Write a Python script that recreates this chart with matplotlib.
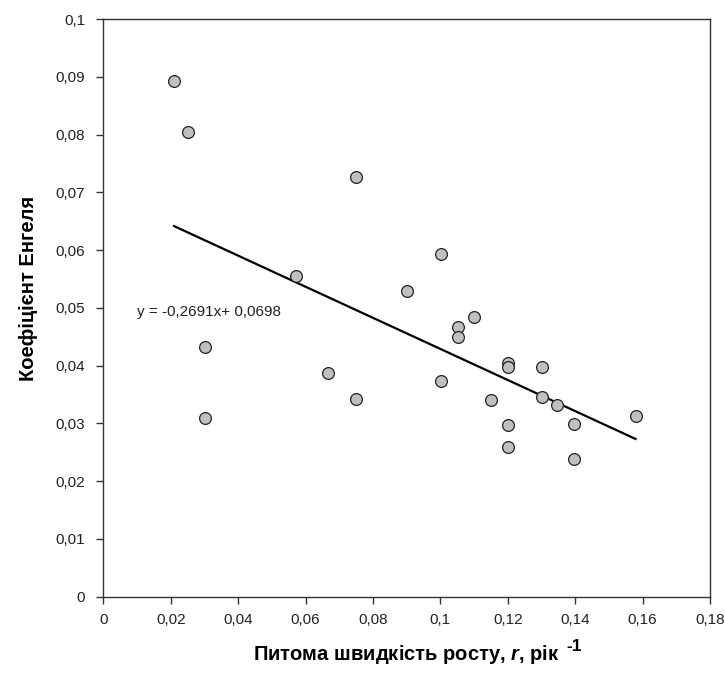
"""
scatter of Engel coefficient vs specific growth rate with linear trend
"""

import numpy as np
import matplotlib
matplotlib.use("Agg")
import matplotlib.pyplot as plt

# data
# --------------------------
growth_rate = [0.021, 0.0252, 0.0749, 0.0571, 0.0302, 0.0302, 0.0667, 0.0749,
               0.1001, 0.0902, 0.1101, 0.1051, 0.1051, 0.1001, 0.1201, 0.1201,
               0.1301, 0.1151, 0.1301, 0.1346, 0.1201, 0.1201, 0.1397, 0.1397,
               0.1579]
engel_coef = [0.0893, 0.0805, 0.0726, 0.0555, 0.0433, 0.0309, 0.0387, 0.0342,
              0.0593, 0.0530, 0.0485, 0.0466, 0.0450, 0.0374, 0.0405, 0.0398,
              0.0398, 0.0340, 0.0345, 0.0332, 0.0297, 0.0259, 0.0299, 0.0239,
              0.0313]

# trend line coefficients as printed on the chart
slope = -0.2691
intercept = 0.0698

x_ticks = [0, 0.02, 0.04, 0.06, 0.08, 0.1, 0.12, 0.14, 0.16, 0.18]
x_tick_labels = ["0", "0,02", "0,04", "0,06", "0,08", "0,1", "0,12", "0,14", "0,16", "0,18"]
y_ticks = [0, 0.01, 0.02, 0.03, 0.04, 0.05, 0.06, 0.07, 0.08, 0.09, 0.1]
y_tick_labels = ["0", "0,01", "0,02", "0,03", "0,04", "0,05", "0,06", "0,07", "0,08", "0,09", "0,1"]

plt.rcParams["font.family"] = ["Liberation Sans", "DejaVu Sans"]
plt.rcParams["mathtext.fontset"] = "custom"
plt.rcParams["mathtext.rm"] = "Liberation Sans:bold"
plt.rcParams["mathtext.it"] = "Liberation Sans:italic:bold"
plt.rcParams["mathtext.bf"] = "Liberation Sans:bold"

fig = plt.figure(figsize=(7.25, 6.86), dpi=100)
ax = fig.add_axes([0.1425, 0.1302, 0.9793 - 0.1425, 0.9723 - 0.1302])

# trend line
x_line = np.array([min(growth_rate), max(growth_rate)])
ax.plot(x_line, slope * x_line + intercept, color="black", linewidth=1.6, zorder=2)

# points
ax.scatter(growth_rate, engel_coef, s=72, facecolor="#c0c0c0", edgecolor="#222222",
           linewidths=0.9, zorder=3)

ax.text(0.0099, 0.0493, "y = -0,2691x+ 0,0698", fontsize=11, va="center", ha="left",
        color="#222222")

ax.set_xlim(0, 0.18)
ax.set_ylim(0, 0.1)
ax.set_xticks(x_ticks)
ax.set_xticklabels(x_tick_labels, fontsize=11)
ax.set_yticks(y_ticks)
ax.set_yticklabels(y_tick_labels, fontsize=11)
ax.tick_params(direction="out", length=5, width=1, color="#333333", labelcolor="#222222")
ax.tick_params(axis="x", pad=7)
ax.tick_params(axis="y", pad=8)

for sp in ax.spines.values():
    sp.set_color("#333333")
    sp.set_linewidth(1)

# x label, superscript "-1" added separately to keep a plain hyphen
ax.set_xlabel(r"Питома швидкість росту, $\it{r}$, рік", fontsize=14.5, fontweight="bold")
ax.xaxis.label.set_va("baseline")
ax.xaxis.label.set_ha("left")
ax.xaxis.set_label_coords((253 - 103.3) / 606.7, (596.7 - 660) / 577.7)

fig.canvas.draw()
bb = ax.xaxis.label.get_window_extent()
fig.text((bb.x1 + 7) / fig.bbox.width, 1 - 651 / 686, "-1", fontsize=12.5, fontweight="bold",
         va="baseline", ha="left")

ax.set_ylabel("Коефіцієнт Енгеля", fontsize=14.5, fontweight="bold")
ax.yaxis.label.set_va("center")
ax.yaxis.set_label_coords(-0.124, 0.534)

fig.savefig("out.png", dpi=100)
